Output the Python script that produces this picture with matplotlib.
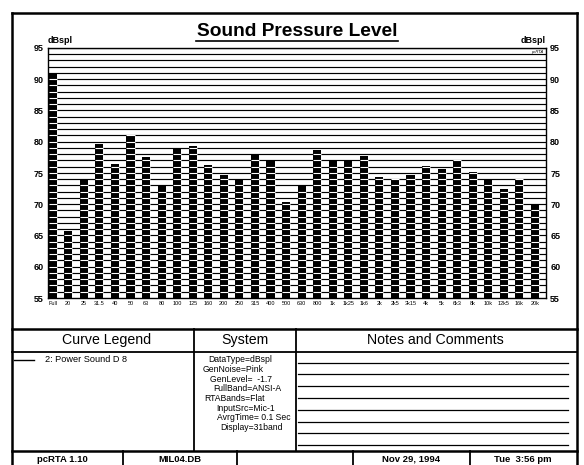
import matplotlib.pyplot as plt
from matplotlib.lines import Line2D

# band labels and measured levels (dBspl)
bands = ["Full", "20", "25", "31.5", "40", "50", "63", "80", "100", "125",
         "160", "200", "250", "315", "400", "500", "630", "800", "1k", "1k25",
         "1k6", "2k", "2k5", "3k15", "4k", "5k", "6k3", "8k", "10k", "12k5",
         "16k", "20k"]
levels = [90.8, 65.7, 74.0, 79.7, 76.5, 81.1, 77.6, 73.0, 79.0, 79.3,
          76.3, 74.7, 74.0, 78.0, 77.0, 70.4, 73.0, 78.6, 76.9, 76.9,
          77.7, 74.4, 74.1, 74.7, 76.1, 75.7, 77.1, 75.2, 74.0, 72.5,
          74.1, 70.0]
y_ticks = [55, 60, 65, 70, 75, 80, 85, 90, 95]
grid_levels = list(range(56, 96))

legend_entry = "2: Power Sound D 8"
system_lines = ["DataType=dBspl", "GenNoise=Pink", "GenLevel=  -1.7",
                "FullBand=ANSI-A", "RTABands=Flat", "InputSrc=Mic-1",
                "AvrgTime= 0.1 Sec", "Display=31band"]
footer = ["pcRTA 1.10", "MIL04.DB", "", "Nov 29, 1994", "Tue  3:56 pm"]

W, H = 584, 465
plt.rcParams["font.family"] = ["Liberation Sans", "DejaVu Sans"]
fig = plt.figure(figsize=(W / 100, H / 100), dpi=100)


def fx(x):
    return x / W


def fy(y):
    return 1 - y / H


def rule(x0, y0, x1, y1, lw=1.3):
    fig.add_artist(Line2D([fx(x0), fx(x1)], [fy(y0), fy(y1)], color="black", lw=lw))


# --- chart ---
ax = fig.add_axes([fx(48), fy(298), fx(546) - fx(48), fy(48) - fy(298)])
xs = list(range(len(bands)))
ax.bar(xs, levels, width=0.52, color="black", zorder=2)
ax.hlines(grid_levels, -0.5, len(bands), color="black", lw=0.85, zorder=1)
# grid shows through the bars as white
for g in grid_levels:
    for i, v in zip(xs, levels):
        if g < v:
            ax.hlines(g, i - 0.26, i + 0.26, color="white", lw=0.8, zorder=3)

ax.set_xlim(-0.3, len(bands) - 0.29)
ax.set_ylim(55, 95)
ax.set_yticks(y_ticks)
ax.set_yticklabels([str(t) for t in y_ticks], fontweight="bold", fontsize=6.5)
ax.tick_params(axis="y", length=0, labelright=True, pad=3)
ax.set_xticks(xs)
ax.set_xticklabels(bands, fontsize=4)
ax.tick_params(axis="x", length=0, pad=2)
for s in ax.spines.values():
    s.set_linewidth(1)
ax.text(0, 1.012, "dBspl", transform=ax.transAxes, fontsize=6.5,
        fontweight="bold", va="bottom", ha="left")
ax.text(1, 1.012, "dBspl", transform=ax.transAxes, fontsize=6.5,
        fontweight="bold", va="bottom", ha="right")
ax.text(0.995, 94.3, "pcRTA", transform=ax.get_yaxis_transform(),
        fontsize=3, ha="right", va="center", style="italic")

fig.text(fx(297), fy(31), "Sound Pressure Level", fontsize=13.8,
         fontweight="bold", ha="center", va="center")
rule(196, 40.5, 398, 40.5, lw=1.2)

# --- frame and table ---
rule(12, 13, 577, 13, lw=1.8)
rule(12, 13, 12, 465, lw=1.8)
rule(577, 13, 577, 465, lw=1.8)
rule(12, 329, 577, 329, lw=1.8)
rule(12, 352, 577, 352)
rule(12, 451, 577, 451, lw=1.8)
rule(194, 329, 194, 451)
rule(296, 329, 296, 451)
for xv in [123, 237, 353, 470]:
    rule(xv, 451, xv, 465)

fig.text(fx(107), fy(340), "Curve Legend", fontsize=10.2, ha="center", va="center")
fig.text(fx(245), fy(340), "System", fontsize=10.2, ha="center", va="center")
fig.text(fx(435), fy(340), "Notes and Comments", fontsize=10.2, ha="center", va="center")

rule(14, 360, 34, 360, lw=1)
fig.text(fx(45), fy(360), legend_entry, fontsize=6.6, ha="left", va="center")

sys_x = [208, 203, 210, 213, 204, 216, 217, 220]
for i, (txt, xv) in enumerate(zip(system_lines, sys_x)):
    fig.text(fx(xv), fy(360 + i * 9.6), txt, fontsize=6.2, ha="left", va="center")

for i in range(8):
    rule(298, 362.5 + i * 11.8, 568, 362.5 + i * 11.8, lw=0.9)

foot_x = [62, 180, 295, 411, 523]
for txt, xv in zip(footer, foot_x):
    fig.text(fx(xv), fy(459), txt, fontsize=6.8, fontweight="bold",
             ha="center", va="center")

fig.savefig("out.png", dpi=100)
